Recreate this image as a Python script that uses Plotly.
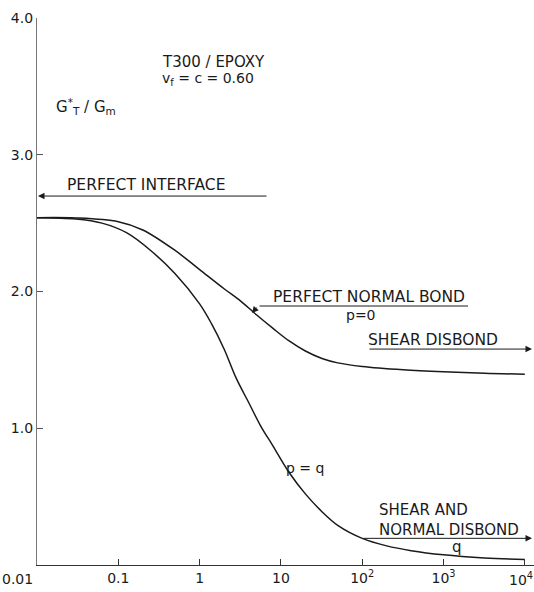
import plotly.graph_objects as go

# ---- data ----
# p = 0 curve (perfect normal bond -> shear disbond)
x_p0 = [0.01, 0.03, 0.1, 0.2, 0.5, 1, 2, 3.2, 5, 8, 12.5, 20, 32, 50, 100, 320, 1000, 3200, 10000]
y_p0 = [2.54, 2.538, 2.51, 2.45, 2.30, 2.16, 2.02, 1.93, 1.83, 1.73, 1.64, 1.565, 1.51, 1.478,
        1.452, 1.428, 1.413, 1.402, 1.395]

# p = q curve (shear and normal disbond)
x_pq = [0.01, 0.03, 0.063, 0.126, 0.25, 0.5, 1, 1.4, 2, 2.8, 4, 5.6, 8, 12.5, 20, 32, 50,
        100, 200, 400, 1000, 3200, 10000]
y_pq = [2.54, 2.53, 2.50, 2.43, 2.30, 2.13, 1.91, 1.765, 1.58, 1.37, 1.19, 1.02, 0.87, 0.68,
        0.52, 0.39, 0.29, 0.195, 0.14, 0.105, 0.075, 0.052, 0.04]

x_tickvals = [0.01, 0.1, 1, 10, 100, 1000, 10000]
x_ticktext = ["0.01", "0.1", "1", "10", "10<sup>2</sup>", "10<sup>3</sup>", "10<sup>4</sup>"]
y_tickvals = [1, 2, 3, 4]
y_ticktext = ["1.0", "2.0", "3.0", "4.0"]

# reference levels of the labelled leader lines
perfect_interface = 2.698
perfect_normal_bond = 1.894
shear_disbond = 1.579
shear_normal_disbond = 0.195

# ---- layout geometry ----
W, H = 534, 592
ML, MR, MT, MB = 37, 0, 18, 27
PW = W - ML - MR
PH = H - MT - MB
DEC = 81.3                      # pixels per decade
XMAX = -2 + PW / DEC            # log10 of right edge

FONT = "DejaVu Sans"
INK = "#1a1a1a"
CAP = 15.5


def lx(px):
    return -2 + (px - ML) / DEC


def vy(py):
    return (H - MB - py) / (PH / 4.0)


fig = go.Figure()
for xs, ys in ((x_p0, y_p0), (x_pq, y_pq)):
    fig.add_trace(go.Scatter(x=xs, y=ys, mode="lines",
                             line=dict(color=INK, width=1.5, shape="spline", smoothing=1.0),
                             showlegend=False, hoverinfo="skip"))

ann = []


def text(t, px, py, anchor="center", size=CAP, yanchor="middle"):
    ann.append(dict(x=lx(px), y=vy(py), xref="x", yref="y", text=t, showarrow=False,
                    xanchor=anchor, yanchor=yanchor, borderpad=0,
                    font=dict(family=FONT, size=size, color=INK)))


def line(px0, px1, y0, y1=None, head=0):
    if y1 is None:
        y1 = y0
    ann.append(dict(x=lx(px1), y=y1, ax=lx(px0), ay=y0, xref="x", yref="y",
                    axref="x", ayref="y", text="", showarrow=True,
                    arrowhead=head, arrowsize=1.3, arrowwidth=1, arrowcolor=INK,
                    standoff=0, startstandoff=0))


# perfect interface arrow
line(268, ML + 1, perfect_interface, head=2)
text("PERFECT INTERFACE", 146, 185)

# title block
text("T300 / EPOXY", 161, 62, anchor="left", size=15)
text("v<sub>f</sub> = c = 0.60", 161, 79, anchor="left", size=14)
text("G<sup>*</sup><sub>T</sub> / G<sub>m</sub>", 55, 106, anchor="left", size=15)

# perfect normal bond
text("PERFECT NORMAL BOND", 369, 297)
line(258, 468, perfect_normal_bond)
line(258, 252, perfect_normal_bond, vy(313), head=2)
text("p=0", 361, 315, size=14)

# shear disbond
text("SHEAR DISBOND", 433, 340)
line(368, W - 2, shear_disbond, head=2)

# p = q
text("p = q", 305, 468, size=14)

# shear and normal disbond
text("SHEAR AND", 378, 520, anchor="left", size=15, yanchor="bottom")
text("NORMAL DISBOND", 378, 520, anchor="left", size=15, yanchor="top")
line(362, W - 2, shear_normal_disbond, head=2)
text("q", 457, 547, size=15)

# end tick labels placed as annotations (shifted inward as in the reference)
ann.append(dict(x=(17 - ML) / PW, y=-14 / PH, xref="paper", yref="paper",
                text=x_ticktext[0], showarrow=False, xanchor="center", yanchor="middle",
                font=dict(family=FONT, size=14, color=INK)))
ann.append(dict(x=1.0, y=-14 / PH, xref="paper", yref="paper",
                text=x_ticktext[-1], showarrow=False, xanchor="right", yanchor="middle",
                borderpad=0, font=dict(family=FONT, size=14, color=INK)))
axis_ticktext = [""] + x_ticktext[1:-1] + [""]

fig.update_layout(
    width=W, height=H,
    margin=dict(l=ML, r=MR, t=MT, b=MB, autoexpand=False),
    paper_bgcolor="white", plot_bgcolor="white",
    annotations=ann,
    xaxis=dict(type="log", range=[-2, XMAX], tickvals=x_tickvals, ticktext=axis_ticktext,
               ticks="inside", ticklen=6, tickwidth=1, tickcolor="#333",
               showline=True, linecolor="#333", linewidth=1.2,
               showgrid=False, zeroline=False, automargin=False,
               ticklabeloverflow="allow",
               tickfont=dict(family=FONT, size=14, color=INK)),
    yaxis=dict(range=[0, 4], tickvals=y_tickvals, ticktext=y_ticktext,
               ticks="inside", ticklen=6, tickwidth=1, tickcolor="#555",
               showline=True, linecolor="#777", linewidth=1.2,
               showgrid=False, zeroline=False, automargin=False,
               ticklabeloverflow="allow",
               tickfont=dict(family=FONT, size=14, color=INK)),
)

fig.write_html("out.html", config={"displayModeBar": False},
               post_script="document.body.style.margin='0';document.body.style.padding='0';")
